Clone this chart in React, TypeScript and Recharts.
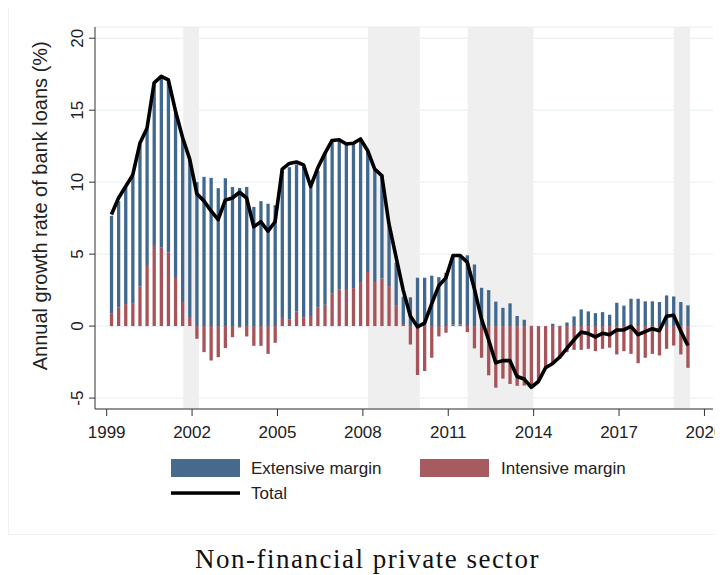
import {
  ComposedChart, Bar, Line, XAxis, YAxis, CartesianGrid, ReferenceArea,
} from 'recharts';

// quarterly observations, end-of-quarter months
const quarters = [
  '1999Q1', '1999Q2', '1999Q3', '1999Q4',
  '2000Q1', '2000Q2', '2000Q3', '2000Q4',
  '2001Q1', '2001Q2', '2001Q3', '2001Q4',
  '2002Q1', '2002Q2', '2002Q3', '2002Q4',
  '2003Q1', '2003Q2', '2003Q3', '2003Q4',
  '2004Q1', '2004Q2', '2004Q3', '2004Q4',
  '2005Q1', '2005Q2', '2005Q3', '2005Q4',
  '2006Q1', '2006Q2', '2006Q3', '2006Q4',
  '2007Q1', '2007Q2', '2007Q3', '2007Q4',
  '2008Q1', '2008Q2', '2008Q3', '2008Q4',
  '2009Q1', '2009Q2', '2009Q3', '2009Q4',
  '2010Q1', '2010Q2', '2010Q3', '2010Q4',
  '2011Q1', '2011Q2', '2011Q3', '2011Q4',
  '2012Q1', '2012Q2', '2012Q3', '2012Q4',
  '2013Q1', '2013Q2', '2013Q3', '2013Q4',
  '2014Q1', '2014Q2', '2014Q3', '2014Q4',
  '2015Q1', '2015Q2', '2015Q3', '2015Q4',
  '2016Q1', '2016Q2', '2016Q3', '2016Q4',
  '2017Q1', '2017Q2', '2017Q3', '2017Q4',
  '2018Q1', '2018Q2', '2018Q3', '2018Q4',
  '2019Q1', '2019Q2',
];

const extensive = [
  6.8, 7.4, 8.1, 8.85,
  9.85, 9.5, 11.2, 11.75,
  11.9, 11.5, 11.3, 10.9,
  10.0, 10.37, 10.3, 9.58,
  10.28, 9.67, 9.6, 9.67,
  8.28, 8.68, 8.5, 8.4,
  10.2, 10.6, 10.2, 10.5,
  9.0, 9.5, 10.5, 10.55,
  10.3, 10.0, 10.0, 9.85,
  8.45, 7.85, 7.2, 4.2,
  3.0, 1.9, 2.0, 3.36,
  3.36, 3.5, 3.4, 3.7,
  4.8, 4.8, 4.92, 4.28,
  2.66, 2.5, 1.7, 1.27,
  1.58, 0.7, 0.44, 0.02,
  0.0, 0.0, 0.16, 0.02,
  0.25, 0.67, 1.16, 1.02,
  0.9, 0.97, 0.79, 1.62,
  1.42, 1.9, 1.9, 1.72,
  1.72, 1.67, 2.13, 2.06,
  1.67, 1.44,
];

const intensive = [
  0.86, 1.28, 1.53, 1.55,
  2.76, 4.18, 5.57, 5.48,
  5.13, 3.41, 1.67, 0.63,
  -0.88, -1.81, -2.39, -2.16,
  -1.53, -0.77, -0.1, -0.72,
  -1.37, -1.37, -1.93, -1.16,
  0.63, 0.44, 1.02, 0.58,
  0.7, 1.28, 1.48, 2.25,
  2.53, 2.58, 2.64, 3.06,
  3.76, 3.06, 3.3, 2.78,
  1.41, 0.14, -1.28, -3.4,
  -3.12, -2.2, -0.72, -0.46,
  0.1, 0.12, -0.42, -1.55,
  -2.2, -3.42, -4.28, -3.65,
  -4.02, -4.15, -4.13, -4.25,
  -3.78, -2.85, -2.62, -2.27,
  -1.81, -1.65, -1.65, -1.58,
  -1.74, -1.58, -1.5, -1.97,
  -1.74, -1.93, -2.58, -2.2,
  -1.93, -2.04, -1.58, -1.35,
  -1.97, -2.9,
];

const total = [
  7.75, 8.9, 9.7, 10.5,
  12.7, 13.75, 16.9, 17.35,
  17.1, 14.95, 13.1, 11.6,
  9.2, 8.7, 8.0, 7.4,
  8.75, 8.9, 9.3, 8.9,
  6.9, 7.25, 6.6, 7.25,
  10.9, 11.3, 11.4, 11.2,
  9.7, 11.0, 12.0, 12.9,
  12.95, 12.65, 12.7, 13.0,
  12.2, 10.9, 10.45, 7.1,
  4.8, 2.5, 0.7, -0.05,
  0.2, 1.55, 2.8, 3.35,
  4.9, 4.9, 4.45, 2.6,
  0.5, -0.95, -2.55, -2.4,
  -2.4, -3.5, -3.68, -4.25,
  -3.85, -2.9, -2.6, -2.15,
  -1.55, -0.95, -0.42, -0.52,
  -0.75, -0.5, -0.6, -0.27,
  -0.27, -0.02, -0.6, -0.38,
  -0.18, -0.32, 0.68, 0.75,
  -0.35, -1.35,
];

// recession periods (decimal years)
const recessions = [
  [2001.69, 2002.24],
  [2008.18, 2010.0],
  [2011.68, 2013.99],
  [2018.93, 2019.49],
];

const xTicks = [1999, 2002, 2005, 2008, 2011, 2014, 2017, 2020];
const yTicks = [-5, 0, 5, 10, 15, 20];

const toYear = (q: string) => Number(q.slice(0, 4)) + (3 * Number(q.slice(5)) - 1) / 12;

const data = quarters.map((q, i) => ({
  q,
  x: toYear(q),
  extensive: extensive[i],
  intensive: intensive[i],
  total: total[i],
}));

const FONT = '"Liberation Sans", Arial, sans-serif';
const BLUE = '#41688f';
const RED = '#a6535a';
const PLOT_LEFT = 87;
const Y_MIN = -5.76;
const Y_MAX = 20.78;

function YTick(props: any) {
  const { y, payload } = props;
  const bx = PLOT_LEFT - 11.7;
  return (
    <text
      x={bx} y={y} transform={`rotate(-90, ${bx}, ${y})`}
      textAnchor="middle" fontSize={17} fontFamily={FONT} fill="#222"
    >
      {payload.value}
    </text>
  );
}

export default function App() {
  return (
    <div style={{ position: 'relative', width: 715, height: 567, background: '#fff' }}>
      <style>{'html { overflow: hidden; }'}</style>
      <div
        style={{
          position: 'absolute', left: 0, top: 0, width: 715, height: 526,
          borderLeft: '1px solid #f0f0f0', borderBottom: '1px solid #f0f0f0',
        }}
      />
      <div style={{ position: 'absolute', left: 0, top: 0 }}>
        <ComposedChart
          width={715}
          height={445}
          data={data}
          stackOffset="sign"
          margin={{ top: 19, right: 10, left: PLOT_LEFT - 60, bottom: 4 }}
        >
          <CartesianGrid vertical={false} stroke="#e4eef0" strokeWidth={1} />
          {recessions.map(([a, b], i) => (
            <ReferenceArea
              key={i} x1={a} x2={b} y1={Y_MIN} y2={Y_MAX}
              fill="#efefef" fillOpacity={1} stroke="none" ifOverflow="hidden"
            />
          ))}
          <XAxis
            type="number" dataKey="x" domain={[1998.59, 2020.3]} ticks={xTicks}
            allowDataOverflow height={40} tickSize={7} tickMargin={10}
            axisLine={{ stroke: '#333' }} tickLine={{ stroke: '#333' }}
            tick={{ fontSize: 17, fontFamily: FONT, fill: '#222' }}
          />
          <YAxis
            type="number" domain={[Y_MIN, Y_MAX]} ticks={yTicks} allowDataOverflow
            width={60} tickSize={6}
            axisLine={{ stroke: '#333' }} tickLine={{ stroke: '#333' }}
            tick={<YTick />}
          />
          <Bar dataKey="intensive" stackId="a" fill={RED} barSize={3.3} isAnimationActive={false} />
          <Bar dataKey="extensive" stackId="a" fill={BLUE} barSize={3.3} isAnimationActive={false} />
          <Line
            dataKey="total" type="linear" stroke="#000" strokeWidth={3.6} dot={false}
            strokeLinejoin="round" isAnimationActive={false}
          />
        </ComposedChart>
      </div>
      <svg
        width={715} height={567}
        style={{ position: 'absolute', left: 0, top: 0, pointerEvents: 'none' }}
      >
        <text
          x={38.7} y={197.8} transform="rotate(-90, 38.7, 197.8)" textAnchor="middle"
          fontSize={20} fontFamily={FONT} fill="#222"
        >
          Annual growth rate of bank loans (%)
        </text>
        <rect x={163} y={451} width={69} height={18} fill="#466a8b" />
        <text x={243} y={466} fontSize={17} fontFamily={FONT} fill="#222">Extensive margin</text>
        <rect x={412} y={451} width={69} height={18} fill="#a65b60" />
        <text x={493} y={466} fontSize={17} fontFamily={FONT} fill="#222">Intensive margin</text>
        <rect x={163} y={483.3} width={69} height={3.5} fill="#000" />
        <text x={243} y={491} fontSize={17} fontFamily={FONT} fill="#222">Total</text>
        <text
          x={187} y={560} fontSize={27} letterSpacing={1.5}
          fontFamily='"Liberation Serif", "Times New Roman", serif' fill="#111"
        >
          Non-financial private sector
        </text>
      </svg>
    </div>
  );
}
